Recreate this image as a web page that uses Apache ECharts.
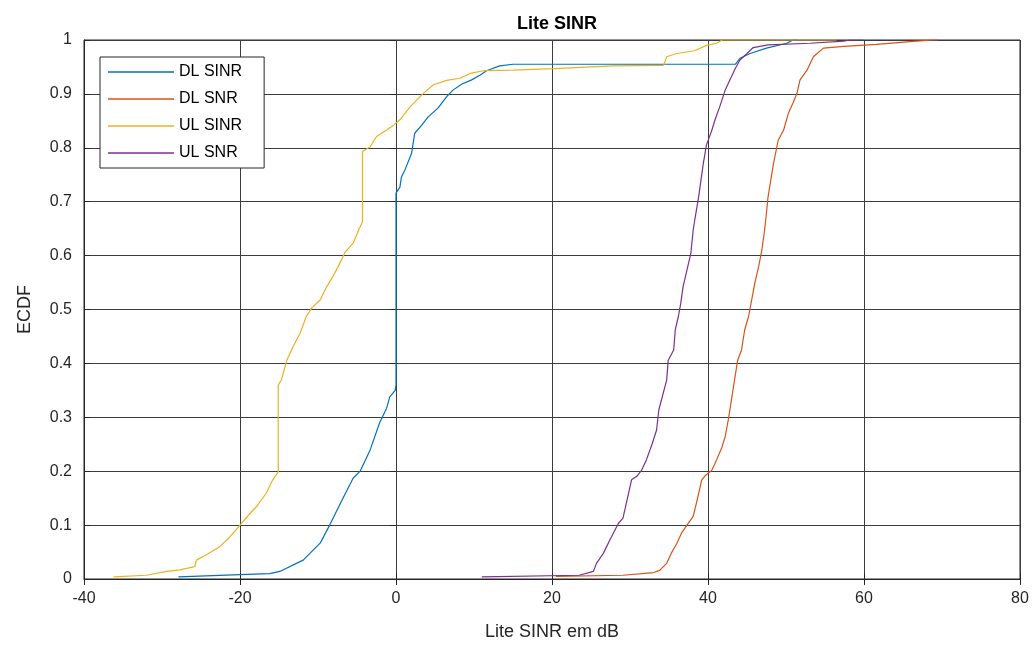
<!DOCTYPE html>
<html>
<head>
<meta charset="utf-8">
<script src="https://cdn.jsdelivr.net/npm/echarts@6/dist/echarts.min.js"></script>
<style>
  html, body { margin: 0; padding: 0; background: #fff; }
  #chart { width: 1036px; height: 648px; }
</style>
</head>
<body>
<div id="chart"></div>
<script>
// ECDF points: [dB, fraction]
const dlSinr = [[-27.9,0.004],[-20,0.008],[-16.2,0.01],[-14.9,0.014],[-11.9,0.035],[-9.7,0.067],[-8.5,0.1],[-6.8,0.15],[-5.5,0.187],[-4.6,0.2],[-3.3,0.24],[-2.1,0.29],[-1.2,0.317],[-0.8,0.338],[-0.1,0.35],[0,0.36],[0,0.716],[0.5,0.727],[0.7,0.746],[1.15,0.759],[2.0,0.79],[2.4,0.827],[3.3,0.842],[4.1,0.857],[5.4,0.874],[6.5,0.895],[7.3,0.907],[8.4,0.918],[9.7,0.926],[10.8,0.935],[11.6,0.943],[13.3,0.952],[15,0.955],[43.5,0.955],[44.1,0.966],[45.4,0.975],[47.5,0.985],[50.1,0.994],[50.9,1],[51.5,1]];
const dlSnr = [[20.5,0.005],[29.1,0.007],[33,0.012],[33.8,0.016],[34.7,0.029],[35.3,0.048],[36,0.066],[36.6,0.085],[37.3,0.1],[38.1,0.116],[38.5,0.14],[39.2,0.184],[39.6,0.191],[40.5,0.202],[41.1,0.221],[41.8,0.245],[42.2,0.264],[42.6,0.295],[43,0.332],[43.8,0.406],[44.3,0.425],[44.7,0.462],[45.2,0.487],[45.6,0.518],[46,0.549],[46.5,0.58],[46.9,0.61],[47.2,0.641],[47.4,0.666],[47.7,0.709],[48.4,0.771],[49,0.814],[49.7,0.833],[50.3,0.864],[50.9,0.883],[51.4,0.901],[51.8,0.926],[52.7,0.944],[53.5,0.969],[54.8,0.985],[57.4,0.988],[61.6,0.992],[65.9,0.997],[68.9,1],[69.5,1]];
const ulSinr = [[-36.2,0.004],[-32,0.007],[-29.4,0.014],[-27.7,0.017],[-25.8,0.023],[-25.6,0.035],[-24.3,0.045],[-22.6,0.06],[-21.3,0.078],[-20,0.1],[-18.7,0.122],[-17.9,0.134],[-16.6,0.16],[-15.8,0.184],[-15.1,0.199],[-15.1,0.36],[-14.7,0.369],[-14,0.406],[-13.2,0.431],[-12.3,0.456],[-11.5,0.487],[-10.8,0.503],[-9.7,0.518],[-8.9,0.542],[-8.1,0.561],[-7.4,0.58],[-6.5,0.607],[-5.5,0.623],[-4.8,0.647],[-4.3,0.663],[-4.3,0.793],[-3.3,0.802],[-2.5,0.821],[-1.2,0.833],[-0.3,0.842],[0.5,0.852],[1.8,0.876],[3.5,0.901],[4.8,0.917],[6.5,0.925],[8.2,0.929],[9.5,0.938],[11.2,0.943],[15,0.944],[20.2,0.947],[27.9,0.952],[34.3,0.953],[34.7,0.969],[36,0.975],[38.3,0.98],[39.8,0.99],[41.1,0.994],[41.8,1],[56.5,1]];
const ulSnr = [[11,0.004],[23.5,0.007],[25.3,0.014],[25.7,0.029],[26.6,0.048],[27.4,0.072],[28.5,0.103],[29.1,0.113],[30.2,0.184],[30.9,0.191],[31.5,0.202],[32.1,0.221],[32.8,0.249],[33.4,0.276],[33.7,0.314],[34.7,0.369],[34.9,0.406],[35.6,0.425],[35.8,0.462],[36.2,0.487],[36.5,0.511],[36.8,0.542],[37.3,0.573],[37.8,0.604],[38.1,0.647],[38.3,0.666],[38.8,0.709],[39.4,0.771],[39.8,0.805],[40.5,0.833],[40.9,0.852],[41.5,0.876],[42.2,0.907],[42.8,0.926],[43.5,0.947],[44.1,0.963],[45,0.975],[45.8,0.986],[47.7,0.991],[53.1,0.994],[57.4,0.998],[58.2,1],[59.9,1]];

const seriesNames = ['DL SINR', 'DL SNR', 'UL SINR', 'UL SNR'];
const seriesColors = ['#0072BD', '#D95319', '#EDB120', '#7E2F8E'];

const chart = echarts.init(document.getElementById('chart'));

const font = 'Arial, "Liberation Sans", sans-serif';
const lineCol = '#262626';
const gridCol = '#3c3c3c';

const tickOnly = {
  axisLine: { show: false },
  axisTick: { show: true, inside: true, length: 6, lineStyle: { color: lineCol } },
  axisLabel: { show: false },
  splitLine: { show: false },
};

chart.setOption({
  animation: false,
  title: {
    text: 'Lite SINR',
    left: 552,
    textAlign: 'center',
    top: 10,
    textStyle: { fontFamily: font, fontSize: 18, fontWeight: 'bold', color: '#000' },
  },
  grid: {
    left: 84, right: 16, top: 40, bottom: 69,
    show: true, borderColor: lineCol, borderWidth: 1,
  },
  legend: {
    orient: 'vertical',
    left: 100, top: 57,
    backgroundColor: '#fff',
    borderColor: lineCol, borderWidth: 1,
    padding: [6, 22, 6, 8],
    icon: 'rect',
    itemWidth: 66, itemHeight: 1.5, itemGap: 9,
    textStyle: { fontFamily: font, fontSize: 16, color: '#000', lineHeight: 18 },
    data: seriesNames,
  },
  xAxis: [{
    type: 'value', min: -40, max: 80, interval: 20,
    name: 'Lite SINR em dB', nameLocation: 'middle', nameGap: 44,
    nameTextStyle: { fontFamily: font, fontSize: 18, color: '#262626' },
    axisLine: { show: true, onZero: false, lineStyle: { color: lineCol } },
    axisTick: { show: true, inside: true, length: 6, lineStyle: { color: lineCol } },
    axisLabel: { fontFamily: font, fontSize: 16, color: '#262626', margin: 12 },
    splitLine: { show: true, lineStyle: { color: gridCol, width: 1 } },
  }, {
    type: 'value', min: -40, max: 80, interval: 20, position: 'top', ...tickOnly,
  }],
  yAxis: [{
    type: 'value', min: 0, max: 1, interval: 0.1,
    name: 'ECDF', nameLocation: 'middle', nameGap: 50,
    nameTextStyle: { fontFamily: font, fontSize: 18, color: '#262626' },
    axisLine: { show: true, onZero: false, lineStyle: { color: lineCol } },
    axisTick: { show: true, inside: true, length: 6, lineStyle: { color: lineCol } },
    axisLabel: { fontFamily: font, fontSize: 16, color: '#262626', margin: 12 },
    splitLine: { show: true, lineStyle: { color: gridCol, width: 1 } },
  }, {
    type: 'value', min: 0, max: 1, interval: 0.1, position: 'right', ...tickOnly,
  }],
  series: [dlSinr, dlSnr, ulSinr, ulSnr].map((data, i) => ({
    name: seriesNames[i],
    type: 'line',
    data: data,
    symbol: 'none',
    color: seriesColors[i],
    lineStyle: { width: 1.2, color: seriesColors[i] },
    xAxisIndex: 0,
    yAxisIndex: 0,
  })),
});
</script>
</body>
</html>
